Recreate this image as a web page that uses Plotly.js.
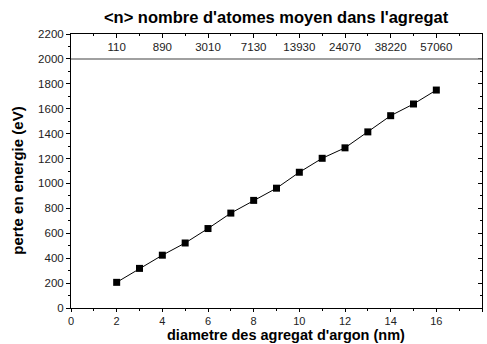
<!DOCTYPE html>
<html>
<head>
<meta charset="utf-8">
<script src="https://cdn.plot.ly/plotly-3.0.1.min.js"></script>
<style>html,body{margin:0;padding:0;background:#fff;}#chart{width:487px;height:344px;}</style>
</head>
<body>
<div id="chart"></div>
<script>
// Data
const diametre = [2, 3, 4, 5, 6, 7, 8, 9, 10, 11, 12, 13, 14, 15, 16];
const perteEnergie = [206, 318, 424, 522, 638, 762, 864, 962, 1090, 1202, 1286, 1414, 1544, 1638, 1750];
const topTickDiametre = [2, 4, 6, 8, 10, 12, 14, 16];
const atomesMoyens = ['110', '890', '3010', '7130', '13930', '24070', '38220', '57060'];
const separationLevel = 2000;

const FONT = 'Arial, "Liberation Sans", sans-serif';

const trace = {
  x: diametre,
  y: perteEnergie,
  type: 'scatter',
  mode: 'lines+markers',
  line: {color: '#000', width: 1},
  marker: {symbol: 'square', size: 7, color: '#000'},
  xaxis: 'x', yaxis: 'y',
  showlegend: false,
  hoverinfo: 'x+y'
};

// same data on the secondary (top/right) axes so that those axes are drawn; invisible
const traceTop = {
  x: diametre,
  y: perteEnergie,
  type: 'scatter',
  mode: 'markers',
  marker: {opacity: 0, size: 1},
  xaxis: 'x2', yaxis: 'y2',
  showlegend: false,
  hoverinfo: 'skip'
};

const layout = {
  width: 487, height: 344,
  margin: {l: 71, r: 5, t: 34, b: 36},
  paper_bgcolor: '#fff', plot_bgcolor: '#fff',
  font: {family: FONT, color: '#000', size: 12},
  title: {
    text: '<b>&lt;n&gt; nombre d\'atomes moyen dans l\'agregat</b>',
    font: {family: FONT, size: 16.5, color: '#000'},
    x: 0.567, xanchor: 'center', y: 0.95, yanchor: 'middle'
  },
  xaxis: {
    range: [0, 18], dtick: 2, tick0: 0, tickmode: 'linear',
    showgrid: false, zeroline: false,
    showline: true, linecolor: '#000', linewidth: 1,
    ticks: 'outside', ticklen: 3, tickcolor: '#000', tickwidth: 1,
    minor: {dtick: 1, tick0: 0, ticks: 'outside', ticklen: 2, tickcolor: '#000'},
    tickfont: {family: FONT, size: 11, color: '#222'},
    ticklabelstandoff: 0,
    fixedrange: true
  },
  yaxis: {
    range: [0, 2200], dtick: 200, tick0: 0, tickmode: 'linear',
    showgrid: false, zeroline: false,
    showline: true, linecolor: '#000', linewidth: 1,
    ticks: 'outside', ticklen: 4, tickcolor: '#000', tickwidth: 1,
    minor: {dtick: 100, tick0: 0, ticks: 'outside', ticklen: 2, tickcolor: '#000'},
    tickfont: {family: FONT, size: 11.5, color: '#222'},
    fixedrange: true
  },
  xaxis2: {
    overlaying: 'x', side: 'top', anchor: 'y2',
    range: [0, 18], tickmode: 'array',
    tickvals: topTickDiametre, ticktext: atomesMoyens,
    ticklabelposition: 'inside', ticklabelstandoff: 4,
    showgrid: false, zeroline: false,
    showline: true, linecolor: '#000', linewidth: 1,
    ticks: 'inside', ticklen: 4, tickcolor: '#000',
    minor: {tickmode: 'linear', dtick: 1, tick0: 0, ticks: 'inside', ticklen: 2, tickcolor: '#000'},
    tickfont: {family: FONT, size: 11.5, color: '#222'},
    fixedrange: true
  },
  yaxis2: {
    overlaying: 'y', side: 'right', anchor: 'x2',
    range: [0, 2200], dtick: 200, tick0: 0, tickmode: 'linear',
    showticklabels: false,
    showgrid: false, zeroline: false,
    showline: true, linecolor: '#000', linewidth: 1,
    ticks: 'inside', ticklen: 4, tickcolor: '#000',
    minor: {dtick: 100, tick0: 0, ticks: 'inside', ticklen: 2, tickcolor: '#000'},
    fixedrange: true
  },
  shapes: [{
    type: 'line', xref: 'paper', x0: 0, x1: 1, yref: 'y', y0: separationLevel, y1: separationLevel,
    line: {color: '#808080', width: 1.5}
  }],
  annotations: [
    {text: '<b>diametre des agregat d\'argon (nm)</b>', xref: 'paper', yref: 'paper',
     x: 0.523, y: -36 / 274, xanchor: 'center', yanchor: 'bottom', showarrow: false, borderpad: 0,
     font: {family: FONT, size: 14.5, color: '#000'}},
    {text: '<b>perte en energie (eV)</b>', xref: 'paper', yref: 'paper', textangle: -90,
     x: -0.131, y: 0.465, xanchor: 'center', yanchor: 'middle', showarrow: false,
     font: {family: FONT, size: 15, color: '#000'}}
  ]
};

Plotly.newPlot('chart', [trace, traceTop], layout, {displayModeBar: false, staticPlot: true});
</script>
</body>
</html>
